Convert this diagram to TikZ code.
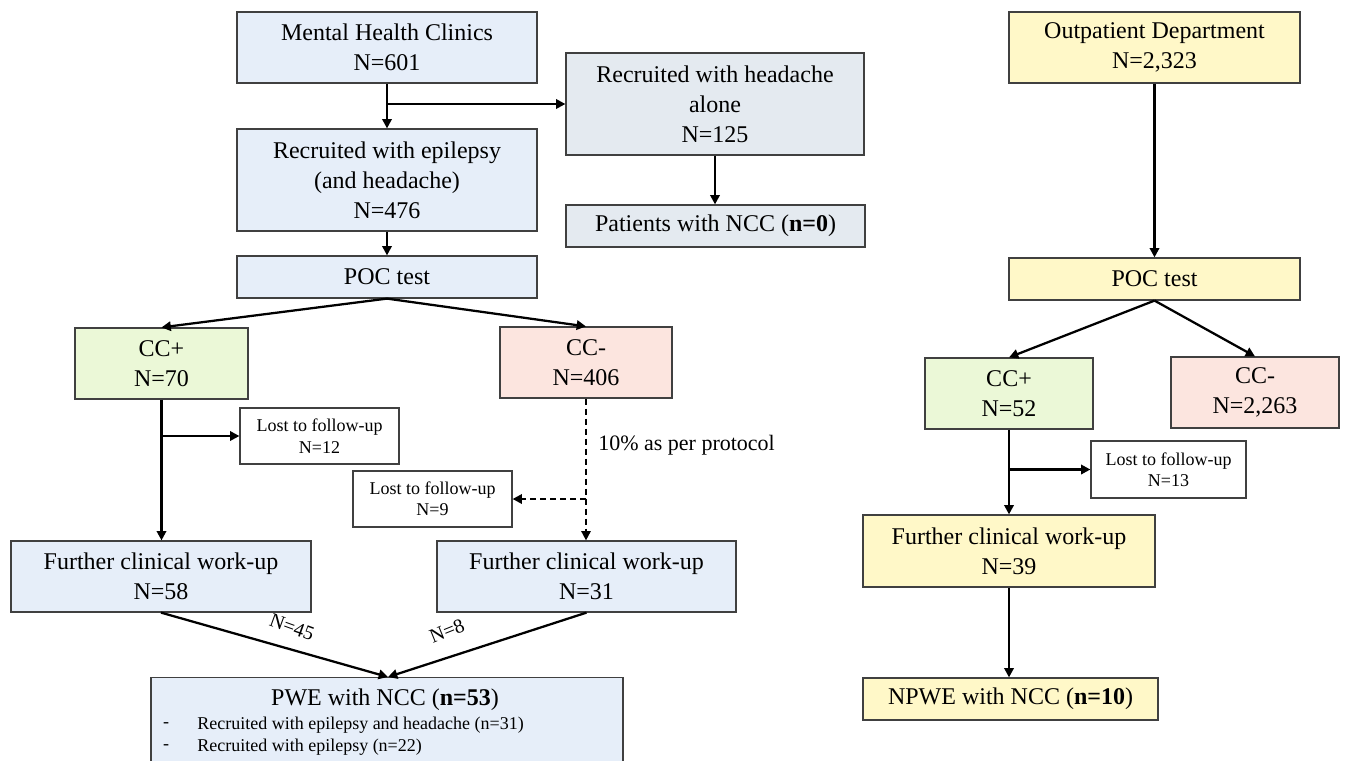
\documentclass[tikz,border=0pt]{standalone}
\usepackage{fontspec}
\setmainfont{Liberation Serif}
\usetikzlibrary{arrows.meta}
\definecolor{cblue}{HTML}{E6EEF9}
\definecolor{cgray}{HTML}{E4EAF0}
\definecolor{cgreen}{HTML}{EBF8D7}
\definecolor{cpink}{HTML}{FCE5DF}
\definecolor{cyellow}{HTML}{FFF8C8}
\definecolor{cborder}{HTML}{404040}
\begin{document}
\begin{tikzpicture}[x=0.75pt,y=-0.75pt,
  box/.style={draw=cborder, line width=0.9pt, align=center, inner sep=2pt, font=\fontsize{18pt}{22.5pt}\selectfont},
  smallbox/.style={draw=cborder, line width=0.9pt, fill=white, align=center, inner sep=2pt, font=\fontsize{13.5pt}{16pt}\selectfont},
  arr/.style={line width=1.7pt, -{Triangle[length=7pt,width=7pt]}},
  dsh/.style={line width=1.3pt, dash pattern=on 4.5pt off 3pt},
  lbl/.style={inner sep=0pt, font=\fontsize{15pt}{18pt}\selectfont},
  itemtxt/.style={inner sep=0pt, anchor=west, font=\fontsize{13.5pt}{16pt}\selectfont}
]
\useasboundingbox (0,0) rectangle (1358,760);
\clip (0,0) rectangle (1358,760);

% ---------------- left part ----------------
\node (mhc) [box, fill=cblue, minimum width=225pt, minimum height=53.25pt] at (387,47.5) {Mental Health Clinics\\N=601};
\node (alone) [box, fill=cgray, minimum width=223.5pt, minimum height=76.5pt] at (715,104) {Recruited with headache\\alone\\N=125};
\node (epi) [box, fill=cblue, minimum width=225pt, minimum height=76.5pt] at (387,180) {Recruited with epilepsy\\(and headache)\\N=476};
\node (ncc0) [box, fill=cgray, minimum width=224.25pt, minimum height=31.5pt] at (715.5,226) {Patients with NCC (\textbf{n=0})};
\node (poc) [box, fill=cblue, minimum width=225pt, minimum height=31.5pt] at (387,277) {POC test};
\node (ccp) [box, fill=cgreen, minimum width=129.75pt, minimum height=53.25pt] at (161.5,363.5) {CC+\\N=70};
\node (ccm) [box, fill=cpink, minimum width=129pt, minimum height=53.25pt] at (586,362.5) {CC-\\N=406};
\node (lost12) [smallbox, minimum width=119.25pt, minimum height=42pt] at (319.5,436) {Lost to follow-up\\N=12};
\node (lost9) [smallbox, minimum width=119.25pt, minimum height=42pt] at (432.5,499) {Lost to follow-up\\N=9};
\node (fw58) [box, fill=cblue, minimum width=225pt, minimum height=53.25pt] at (161,576.5) {Further clinical work-up\\N=58};
\node (fw31) [box, fill=cblue, minimum width=224.25pt, minimum height=53.25pt] at (586.5,576.5) {Further clinical work-up\\N=31};
\node (pwe) [box, fill=cblue, anchor=north, minimum width=354pt, minimum height=80pt] at (387,677) {};
\node (pwet) [inner sep=0pt, font=\fontsize{18pt}{22pt}\selectfont] at (385,700) {PWE with NCC (\textbf{n=53})};
\node (d1) [itemtxt, anchor=center] at (166,725) {-};
\node (i1) [itemtxt] at (197,725) {Recruited with epilepsy and headache (n=31)};
\node (d2) [itemtxt, anchor=center] at (166,747) {-};
\node (i2) [itemtxt] at (197,747) {Recruited with epilepsy (n=22)};

\coordinate (b1) at (387,104);
\coordinate (b2) at (161.5,436);
\coordinate (b3) at (586,499);
\coordinate (pin) at (388,677);

\draw[arr] (mhc.south) -- (epi.north);
\draw[arr] (b1) -- (alone.west);
\draw[arr] (alone.south) -- (ncc0.north -| alone.south);
\draw[arr] (epi.south) -- (poc.north);
\draw[arr] (poc.south) -- (ccp.north);
\draw[arr] (poc.south) -- (ccm.north);
\draw[arr] (ccp.south) -- (fw58.north -| ccp.south);
\draw[arr] (b2) -- (lost12.west);
\draw[dsh, -{Triangle[length=7pt,width=7pt]}] (ccm.south) -- (fw31.north -| ccm.south);
\draw[dsh, line width=1.7pt, -{Triangle[length=7pt,width=7pt]}] (b3) -- (lost9.east);
\node (pct) [lbl, anchor=west, font=\fontsize{16.5pt}{20pt}\selectfont] at (598,445) {10\% as per protocol};
\draw[arr] (fw58.south) -- (pin);
\draw[arr] (fw31.south) -- (pin);
\node (l45) [lbl, rotate=-20] at (292,627) {N=45};
\node (l8) [lbl, rotate=22] at (447,631) {N=8};

% ---------------- right part ----------------
\node (opd) [box, fill=cyellow, minimum width=218.25pt, minimum height=53.25pt] at (1154.5,47.5) {Outpatient Department\\N=2,323};
\node (pocr) [box, fill=cyellow, minimum width=218.25pt, minimum height=31.5pt] at (1154.5,279) {POC test};
\node (ccpr) [box, fill=cgreen, minimum width=126pt, minimum height=53.25pt] at (1009,393.5) {CC+\\N=52};
\node (ccmr) [box, fill=cpink, minimum width=126pt, minimum height=53.25pt] at (1255,392.5) {CC-\\N=2,263};
\node (lost13) [smallbox, minimum width=116.25pt, minimum height=42.75pt] at (1168.5,469.5) {Lost to follow-up\\N=13};
\node (fw39) [box, fill=cyellow, minimum width=219pt, minimum height=54pt] at (1009,551) {Further clinical work-up\\N=39};
\node (npwe) [box, fill=cyellow, minimum width=221.25pt, minimum height=31.5pt] at (1010.5,699) {NPWE with NCC (\textbf{n=10})};

\coordinate (b4) at (1009,469.5);

\draw[arr] (opd.south) -- (pocr.north);
\draw[arr] (pocr.south) -- (ccpr.north);
\draw[arr] (pocr.south) -- (ccmr.north);
\draw[arr] (ccpr.south) -- (fw39.north);
\draw[arr] (b4) -- (lost13.west);
\draw[arr] (fw39.south) -- (npwe.north -| fw39.south);
\end{tikzpicture}
\end{document}
